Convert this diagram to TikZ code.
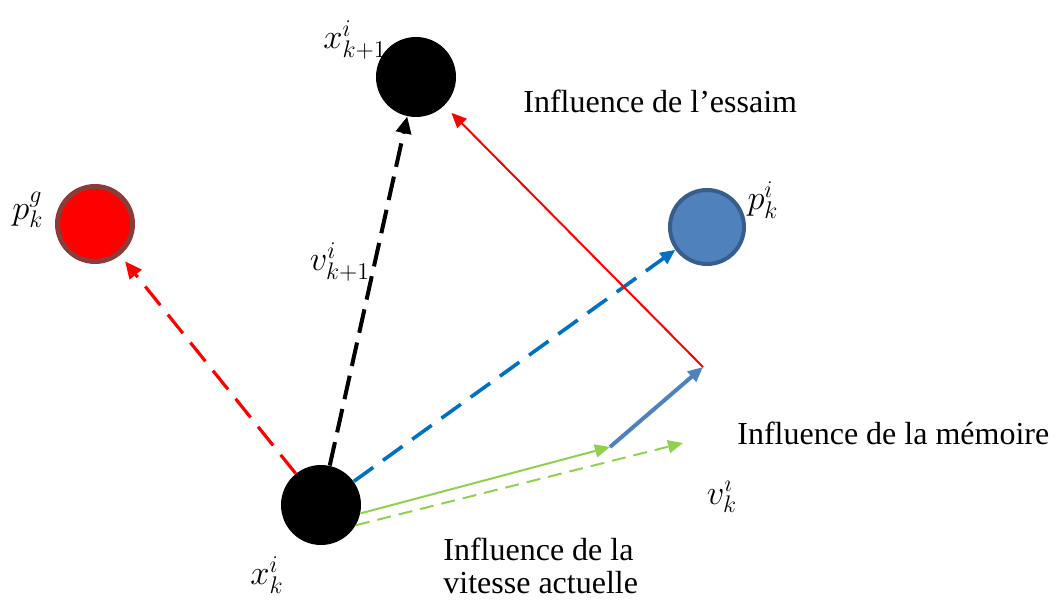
\documentclass[tikz,border=0pt]{standalone}
\usepackage{fontspec}
\setmainfont{Liberation Serif}
\usetikzlibrary{positioning,arrows.meta,calc}
\definecolor{swarmred}{HTML}{FF0000}
\definecolor{ringred}{HTML}{8C3B3B}
\definecolor{memfill}{HTML}{4F81BD}
\definecolor{memring}{HTML}{385D8A}
\definecolor{memdash}{HTML}{0070C0}
\definecolor{velgreen}{HTML}{92D050}

\tikzset{
  dot/.style={circle,inner sep=0pt,minimum size=40pt,fill=black},
  mathlbl/.style={font=\fontsize{17}{20}\selectfont},
  txt/.style={font=\fontsize{16}{16.5}\selectfont,anchor=west,align=left,inner sep=0pt},
  bigtip/.style={-{Triangle[length=8.5pt,width=7.5pt]}},
  smalltip/.style={-{Triangle[length=7.5pt,width=6.5pt]}}
}

\begin{document}
\begin{tikzpicture}[x=0.5pt,y=-0.5pt]
      \useasboundingbox (0,0) rectangle (1055,603);

      \node[dot] (xnext) at (416,77) {};
      \node[dot] (xk) at (321,505) {};
      \node[circle,inner sep=0pt,minimum size=37.5pt,fill=swarmred,draw=ringred,line width=2.5pt] (pg) at (95,224) {};
      \node[circle,inner sep=0pt,minimum size=37pt,fill=memfill,draw=memring,line width=2pt] (pi) at (707,227) {};

      \coordinate (gend) at (610,447);
      \coordinate (vend) at (683,443);
      \coordinate (corner) at (703,367);

      \node[mathlbl] at (355,40) {$x_{k+1}^{i}$};
      \node[mathlbl] at (28,210) {$p_{k}^{g}$};
      \node[mathlbl] at (763,200) {$p_{k}^{i}$};
      \node[mathlbl] at (340,262) {$v_{k+1}^{i}$};
      \node[mathlbl] at (267,575) {$x_{k}^{i}$};
      \node[mathlbl] at (722,497) {$v_{k}^{\imath}$};

      \node[txt] (swarm) at (523,101) {Influence de l’essaim};
      \node[txt] (memory) at (737,433) {Influence de la mémoire};
      \node[txt] (speed) at (443,566) {Influence de la\\vitesse actuelle};

      \draw[bigtip,line width=2pt,dash pattern=on 12pt off 5pt] (xk) -- (xnext);
      \draw[bigtip,line width=1.6pt,swarmred,dash pattern=on 12pt off 6pt,shorten >=4pt] (xk) -- (pg);
      \draw[smalltip,line width=1.8pt,memdash,dash pattern=on 12pt off 6pt] (xk) -- (pi);
      \draw[smalltip,line width=1pt,velgreen] (xk.-12) -- (gend);
      \draw[smalltip,line width=1pt,velgreen,dash pattern=on 7pt off 4pt] (xk.-30) -- (vend);
      \draw[smalltip,line width=2pt,memfill] (gend) -- (corner);
      \draw[smalltip,line width=1pt,swarmred,shorten >=5pt] (corner) -- (xnext);
    \end{tikzpicture}
\end{document}
